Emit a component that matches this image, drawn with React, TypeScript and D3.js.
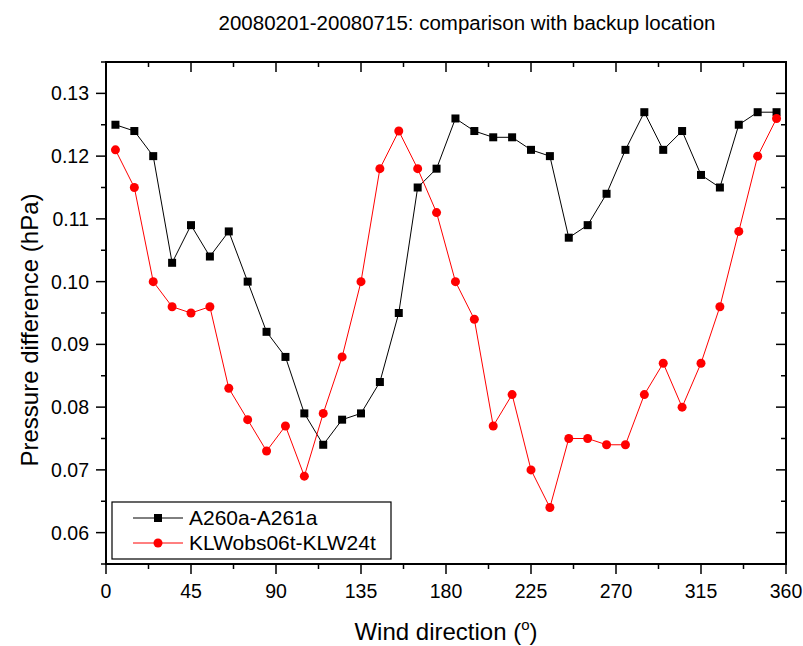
import React from "react";
import * as d3 from "d3";

const directions = [5, 15, 25, 35, 45, 55, 65, 75, 85, 95, 105, 115, 125, 135, 145, 155, 165, 175, 185, 195, 205, 215, 225, 235, 245, 255, 265, 275, 285, 295, 305, 315, 325, 335, 345, 355];
const seriesA = [0.125, 0.124, 0.120, 0.103, 0.109, 0.104, 0.108, 0.100, 0.092, 0.088, 0.079, 0.074, 0.078, 0.079, 0.084, 0.095, 0.115, 0.118, 0.126, 0.124, 0.123, 0.123, 0.121, 0.120, 0.107, 0.109, 0.114, 0.121, 0.127, 0.121, 0.124, 0.117, 0.115, 0.125, 0.127, 0.127];
const seriesB = [0.121, 0.115, 0.100, 0.096, 0.095, 0.096, 0.083, 0.078, 0.073, 0.077, 0.069, 0.079, 0.088, 0.100, 0.118, 0.124, 0.118, 0.111, 0.100, 0.094, 0.077, 0.082, 0.070, 0.064, 0.075, 0.075, 0.074, 0.074, 0.082, 0.087, 0.080, 0.087, 0.096, 0.108, 0.120, 0.126];
const seriesNames = ["A260a-A261a", "KLWobs06t-KLW24t"];
const xTicks = [0, 45, 90, 135, 180, 225, 270, 315, 360];
const yTicks = [0.06, 0.07, 0.08, 0.09, 0.10, 0.11, 0.12, 0.13];
const title = "20080201-20080715: comparison with backup location";

const W = 803, H = 646;
const L = 106, R = 786, T = 62, B = 564;
const FONT = "'Liberation Sans', Arial, sans-serif";

export default function App() {
  const x = d3.scaleLinear().domain([0, 360]).range([L, R]);
  const y = d3.scaleLinear().domain([0.055, 0.135]).range([B, T]);
  const line = d3.line<number>().x((_, i) => x(directions[i])).y((d) => y(d));
  const xMinor = d3.range(0, 361, 22.5);
  const yMinor = d3.range(0, 17).map((i) => 0.055 + i * 0.005);
  const isMajorY = (v: number) => yTicks.some((t) => Math.abs(t - v) < 1e-9);
  const isMajorX = (v: number) => xTicks.some((t) => Math.abs(t - v) < 1e-9);
  const MAJ = 10, MIN = 5;

  return (
    <svg width={W} height={H} style={{ position: "absolute", left: 0, top: 0, background: "#fff" }} fontFamily={FONT}>
      <rect x={0} y={0} width={W} height={H} fill="#fff" />
      <text x={467} y={30} textAnchor="middle" fontSize={20.5} fill="#000">{title}</text>

      {xMinor.map((v) => {
        const len = isMajorX(v) ? MAJ : MIN;
        return (
          <g key={"xt" + v} stroke="#000" strokeWidth={1.5}>
            <line x1={x(v)} x2={x(v)} y1={B} y2={B + len} />
            <line x1={x(v)} x2={x(v)} y1={T} y2={T + len} />
          </g>
        );
      })}
      {yMinor.map((v) => {
        const len = isMajorY(v) ? MAJ : MIN;
        return (
          <g key={"yt" + v} stroke="#000" strokeWidth={1.5}>
            <line x1={L} x2={L - len} y1={y(v)} y2={y(v)} />
            <line x1={R} x2={R - len} y1={y(v)} y2={y(v)} />
          </g>
        );
      })}
      <rect x={L} y={T} width={R - L} height={B - T} fill="none" stroke="#000" strokeWidth={2} />

      {xTicks.map((v) => (
        <text key={"xl" + v} x={x(v)} y={B + 34} textAnchor="middle" fontSize={19.5} fill="#000">{v}</text>
      ))}
      {yTicks.map((v) => (
        <text key={"yl" + v} x={L - 17} y={y(v) + 7} textAnchor="end" fontSize={19.5} fill="#000">{v.toFixed(2)}</text>
      ))}

      <text x={446} y={640} textAnchor="middle" fontSize={24} fill="#000">
        Wind direction (<tspan dy={-10} fontSize={15}>o</tspan><tspan dy={10}>)</tspan>
      </text>
      <text transform={`translate(38, ${(T + B) / 2 + 17}) rotate(-90)`} textAnchor="middle" fontSize={24} fill="#000">
        Pressure difference (hPa)
      </text>

      <path d={line(seriesA) || ""} fill="none" stroke="#000" strokeWidth={1} />
      {seriesA.map((v, i) => (
        <rect key={"a" + i} x={x(directions[i]) - 4} y={y(v) - 4} width={8} height={8} fill="#000" />
      ))}
      <path d={line(seriesB) || ""} fill="none" stroke="#ff0000" strokeWidth={1} />
      {seriesB.map((v, i) => (
        <circle key={"b" + i} cx={x(directions[i])} cy={y(v)} r={4.5} fill="#ff0000" />
      ))}

      <rect x={112} y={502} width={279} height={57} fill="#fff" stroke="#000" strokeWidth={1.2} />
      <line x1={133} x2={183} y1={518} y2={518} stroke="#000" strokeWidth={1} />
      <rect x={154} y={514} width={8} height={8} fill="#000" />
      <text x={189} y={525} fontSize={21} fill="#000">{seriesNames[0]}</text>
      <line x1={133} x2={183} y1={543} y2={543} stroke="#ff0000" strokeWidth={1} />
      <circle cx={158} cy={543} r={4.5} fill="#ff0000" />
      <text x={189} y={550} fontSize={21} fill="#000">{seriesNames[1]}</text>
    </svg>
  );
}
